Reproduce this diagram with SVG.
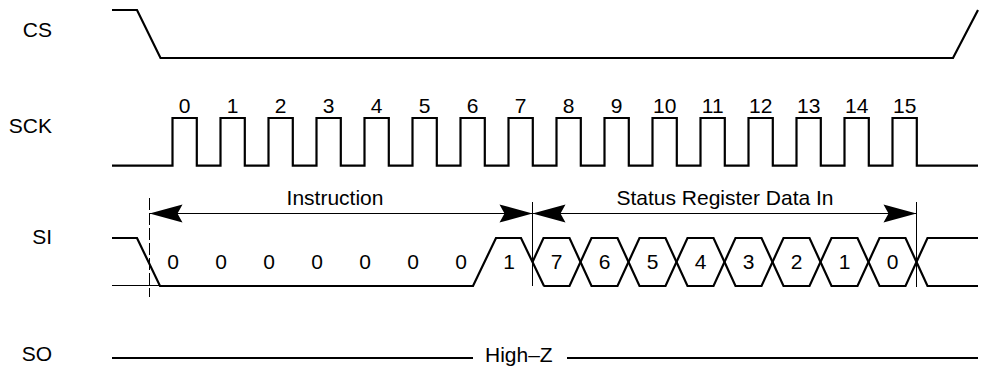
<svg xmlns="http://www.w3.org/2000/svg" width="981" height="367" viewBox="0 0 981 367">
<style>
  text { font-family: "Liberation Sans", Arial, sans-serif; font-size: 21px; fill: #000; }
  .lbl { text-anchor: end; }
  .c { text-anchor: middle; }
  .w { fill: none; stroke: #000; stroke-width: 2.2; stroke-linejoin: miter; }
  .thin { fill: none; stroke: #000; stroke-width: 1; }
  .dash { fill: none; stroke: #000; stroke-width: 1; stroke-dasharray: 12 3; }
</style>
<defs>
  <marker id="ah" viewBox="-34 -10 35 20" refX="0" refY="0" markerWidth="35" markerHeight="20" markerUnits="userSpaceOnUse" orient="auto-start-reverse">
    <path d="M0,0 L-33,-9 L-28,0 L-33,9 Z" fill="#000"/>
  </marker>
</defs>
<rect width="981" height="367" fill="#fff"/>

<g id="cs">
  <text class="lbl" x="52" y="37">CS</text>
  <path class="w" d="M112,10 H137 L160.5,58 H953 L978,10"/>
</g>

<g id="sck">
  <text class="lbl" x="52" y="133">SCK</text>
  <path class="w" d="M112,165.7 H172.5 V118 H196.8 V165.7 H220.5 V118 H244.8 V165.7 H268.5 V118 H292.8 V165.7 H316.5 V118 H340.8 V165.7 H364.5 V118 H388.8 V165.7 H412.5 V118 H436.8 V165.7 H460.5 V118 H484.8 V165.7 H508.5 V118 H532.8 V165.7 H556.5 V118 H580.8 V165.7 H604.5 V118 H628.8 V165.7 H652.5 V118 H676.8 V165.7 H700.5 V118 H724.8 V165.7 H748.5 V118 H772.8 V165.7 H796.5 V118 H820.8 V165.7 H844.5 V118 H868.8 V165.7 H892.5 V118 H916.8 V165.7 H978"/>
  <g class="c">
    <text class="c" x="184.7" y="112.5">0</text>
    <text class="c" x="232.7" y="112.5">1</text>
    <text class="c" x="280.7" y="112.5">2</text>
    <text class="c" x="328.7" y="112.5">3</text>
    <text class="c" x="376.7" y="112.5">4</text>
    <text class="c" x="424.7" y="112.5">5</text>
    <text class="c" x="472.7" y="112.5">6</text>
    <text class="c" x="520.7" y="112.5">7</text>
    <text class="c" x="568.7" y="112.5">8</text>
    <text class="c" x="616.7" y="112.5">9</text>
    <text class="c" x="664.7" y="112.5">10</text>
    <text class="c" x="712.7" y="112.5">11</text>
    <text class="c" x="760.7" y="112.5">12</text>
    <text class="c" x="808.7" y="112.5">13</text>
    <text class="c" x="856.7" y="112.5">14</text>
    <text class="c" x="904.7" y="112.5">15</text>
  </g>
</g>

<g id="si">
  <text class="lbl" x="52" y="244">SI</text>
  <path class="thin" d="M112,285.5 H160"/>
  <path class="w" d="M112,238 H137 L160,286 H473 L496,238 H521 L544,286"/>
  <path class="w" d="M532.5,262 L543.5,238 H569.5 L580.5,262 L569.5,286 H543.5"/>
  <path class="w" d="M580.5,262 L591.5,238 H617.5 L628.5,262 L617.5,286 H591.5 Z"/>
  <path class="w" d="M628.5,262 L639.5,238 H665.5 L676.5,262 L665.5,286 H639.5 Z"/>
  <path class="w" d="M676.5,262 L687.5,238 H713.5 L724.5,262 L713.5,286 H687.5 Z"/>
  <path class="w" d="M724.5,262 L735.5,238 H761.5 L772.5,262 L761.5,286 H735.5 Z"/>
  <path class="w" d="M772.5,262 L783.5,238 H809.5 L820.5,262 L809.5,286 H783.5 Z"/>
  <path class="w" d="M820.5,262 L831.5,238 H857.5 L868.5,262 L857.5,286 H831.5 Z"/>
  <path class="w" d="M868.5,262 L879.5,238 H905.5 L916.5,262 L905.5,286 H879.5 Z"/>
  <path class="w" d="M978,238 H927.5 L916.5,262 L927.5,286 H978"/>
  <text class="c" x="173" y="269">0</text>
  <text class="c" x="221" y="269">0</text>
  <text class="c" x="269" y="269">0</text>
  <text class="c" x="317" y="269">0</text>
  <text class="c" x="365" y="269">0</text>
  <text class="c" x="413" y="269">0</text>
  <text class="c" x="461" y="269">0</text>
  <text class="c" x="509" y="269">1</text>
  <text class="c" x="556.5" y="269">7</text>
  <text class="c" x="604.5" y="269">6</text>
  <text class="c" x="652.5" y="269">5</text>
  <text class="c" x="700.5" y="269">4</text>
  <text class="c" x="748.5" y="269">3</text>
  <text class="c" x="796.5" y="269">2</text>
  <text class="c" x="844.5" y="269">1</text>
  <text class="c" x="892.5" y="269">0</text>
</g>

<g id="so">
  <text class="lbl" x="52" y="361">SO</text>
  <path class="w" d="M112,358 H473 M567,358 H978"/>
  <text x="485" y="361.5">High–Z</text>
</g>

<g id="connectors">
  <path class="dash" d="M149.5,198 V297"/>
  <path class="thin" d="M532.5,202 V286"/>
  <path class="thin" d="M916.5,202 V287"/>
  <path class="thin" d="M149.5,213.5 H532.5" marker-start="url(#ah)" marker-end="url(#ah)"/>
  <path class="thin" d="M532.5,213.5 H916.5" marker-start="url(#ah)" marker-end="url(#ah)"/>
  <text class="c" x="335" y="205">Instruction</text>
  <text class="c" x="725" y="205">Status Register Data In</text>
</g>
</svg>
